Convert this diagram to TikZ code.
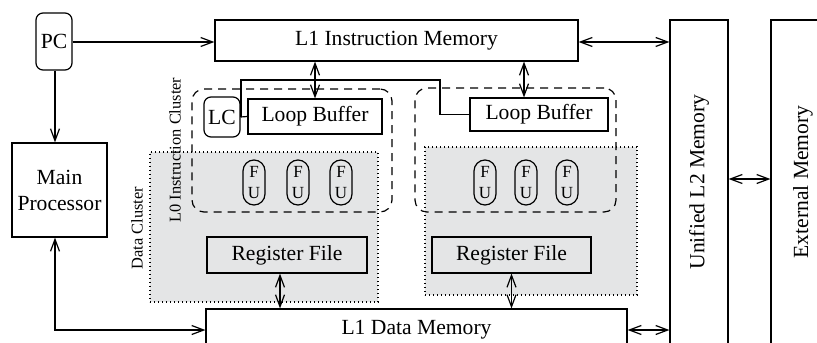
\documentclass[tikz,border=0pt]{standalone}
\usepackage{fontspec}
\setmainfont{Liberation Serif}
\usetikzlibrary{arrows.meta}
\definecolor{clustergray}{HTML}{E4E5E6}

\tikzset{
  block/.style={draw, inner sep=0pt, align=center},
  roundblock/.style={block, rounded corners=3.5pt},
  fuunit/.style={draw, inner sep=0pt, rounded corners=5.5pt, minimum width=11pt, minimum height=22.5pt,
    align=center, font=\fontsize{8.5}{10.5}\selectfont},
  datacluster/.style={draw, fill=clustergray, dash pattern=on .6pt off 1.4pt, inner sep=0pt},
  instcluster/.style={draw, dash pattern=on 4pt off 3pt, rounded corners=6pt, inner sep=0pt},
  clusterlabel/.style={rotate=90, font=\fontsize{8.2}{10}\selectfont, inner sep=0pt}
}

\begin{document}
\begin{tikzpicture}[x=.5pt, y=-.5pt, line width=.6pt, font=\fontsize{10.8}{13}\selectfont,
    >={Straight Barb[length=6pt,width=4.5pt]}]
  \useasboundingbox (0,0) rectangle (817,342);
  \clip (0,0) rectangle (817,342);

  % data clusters (shaded) and L0 instruction clusters (dashed)
  \node[datacluster, minimum width=114pt, minimum height=75pt] (dc1) at (264,227) {};
  \node[datacluster, minimum width=106pt, minimum height=74pt] (dc2) at (531,221) {};
  \node[instcluster, minimum width=100pt, minimum height=61.5pt] (ic1) at (292,150.5) {};
  \node[instcluster, minimum width=100.5pt, minimum height=62pt] (ic2) at (515.5,150) {};
  \node[clusterlabel] (dclabel) at (137,228) {Data Cluster};
  \node[clusterlabel] (iclabel) at (175,150) {L0 Instruction Cluster};

  % memories and processor
  \node[roundblock, minimum width=18pt, minimum height=28.5pt] (pc) at (54,41.5) {PC};
  \node[block, minimum width=181.5pt, minimum height=20.5pt] (l1i) at (396.5,40.5) {L1 Instruction Memory};
  \node[block, minimum width=47.5pt, minimum height=47pt] (main) at (59.5,190) {Main\\Processor};
  \node[block, minimum width=210.5pt, minimum height=21pt] (l1d) at (416.5,330) {L1 Data Memory};
  \node[block, minimum width=29pt, minimum height=162pt] (l2) at (699,182) {};
  \node[rotate=90] at (l2.center) {Unified L2 Memory};
  \node[block, minimum width=32pt, minimum height=162pt] (ext) at (803,182) {};
  \node[rotate=90] at (ext.center) {External Memory};

  % loop buffers, loop counter, register files
  \node[roundblock, minimum width=18pt, minimum height=20pt] (lc) at (222,117) {LC};
  \node[block, minimum width=67pt, minimum height=17.5pt] (lb1) at (315,116.5) {Loop Buffer};
  \node[block, minimum width=69pt, minimum height=16.5pt] (lb2) at (539,114.5) {Loop Buffer};
  \node[block, fill=clustergray, minimum width=80pt, minimum height=18pt] (rf1) at (287,255) {Register File};
  \node[block, fill=clustergray, minimum width=79.5pt, minimum height=18pt] (rf2) at (511.5,255) {Register File};

  % functional units
  \foreach \x [count=\i] in {254,298,341}
    \node[fuunit] (fua\i) at (\x,182.5) {F\\U};
  \foreach \x [count=\i] in {485,526,567}
    \node[fuunit] (fub\i) at (\x,182.5) {F\\U};

  % connections
  \coordinate (lbtap) at (524,0);
  \coordinate (rftap) at (280,0);
  \coordinate (bus) at (241,80);
  \coordinate (jog) at (440,80);
  \draw[->] (pc.east |- 0,42) -- (l1i.west |- 0,42);
  \draw[->] (pc.south -| 55,0) -- (main.north -| 55,0);
  \draw[<->] (main.south -| 55,0) |- (l1d.west);
  \draw[<->] (l1i.east |- 0,42) -- (l2.west |- 0,42);
  \draw[<->] (l1d.east) -- (l1d.east -| l2.west);
  \draw[<->] (l2.east |- 0,179) -- (ext.west |- 0,179);
  \draw[<->] (l1i.south -| lb1.north) -- (lb1.north);
  \draw[<->] (l1i.south -| lbtap) -- (lb2.north -| lbtap);
  \draw (lc.east) -- (lb1.west);
  \draw (lc.east -| bus) |- (jog) |- (lb2.west);
  \draw[<->] (rf1.south -| rftap) -- (l1d.north -| rftap);
  \draw[<->] (rf2.south) -- (rf2.south |- l1d.north);
\end{tikzpicture}
\end{document}
